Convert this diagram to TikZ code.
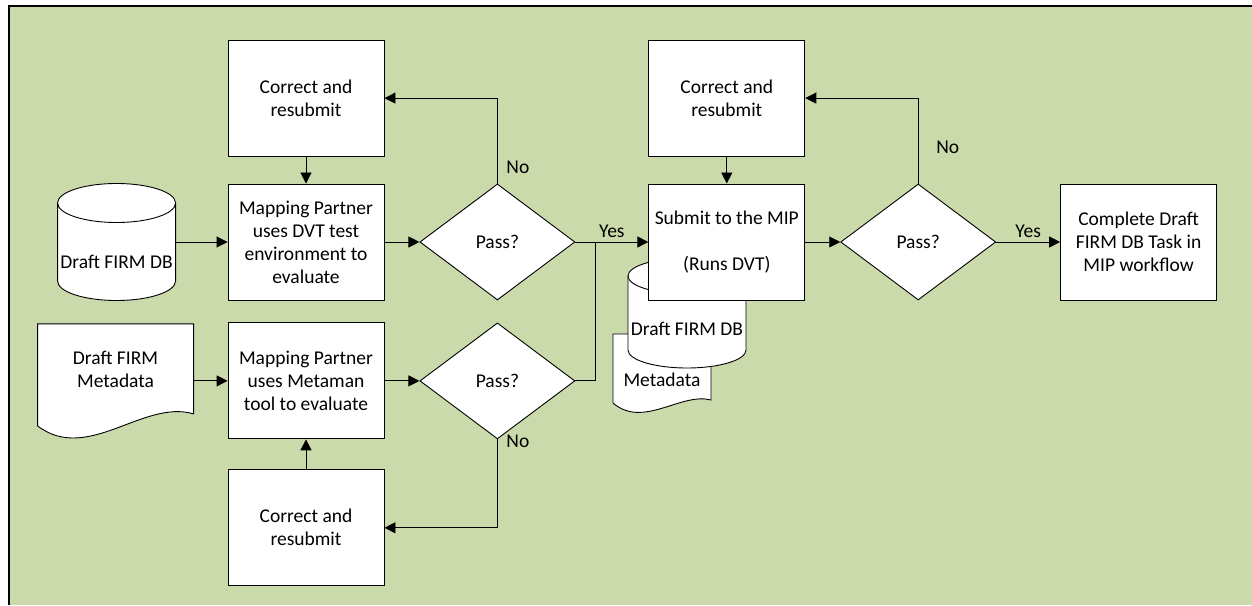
\documentclass[tikz,border=0pt]{standalone}
\usepackage{fontspec}
\setmainfont{Carlito}
\usepackage{tikz}
\usetikzlibrary{positioning}
\usetikzlibrary{shapes.geometric}
\usetikzlibrary{arrows.meta}
\definecolor{panelgreen}{RGB}{203,218,170}

\begin{document}
\begin{tikzpicture}[x=1pt,y=1pt,
    font=\fontsize{19.5}{23}\selectfont,
    box/.style={draw,fill=white,line width=0.9pt,minimum width=156pt,minimum height=116pt,inner sep=0pt,align=center},
    dec/.style={diamond,draw,fill=white,line width=0.9pt,minimum width=155pt,minimum height=116pt,inner sep=0pt},
    ghost/.style={inner sep=0pt,outer sep=0pt},
    arr/.style={-{Triangle[length=11pt,width=11pt]},line width=0.9pt},
    tag/.style={anchor=west,inner sep=0pt}]
    \useasboundingbox (0,0) rectangle (1252,605);
    % panel
    \fill[panelgreen] (9,0) rectangle (1252,599);
    \draw[line width=1.4pt] (9,0) -- (9,599) -- (1252,599);

    % left column
    \node[box] (check) at (306,363) {Mapping Partner\\uses DVT test\\environment to\\evaluate};
    \node[box] (fixtop) [above=27pt of check] {Correct and\\resubmit};
    \node[box] (meta) [below=22pt of check] {Mapping Partner\\uses Metaman\\tool to evaluate};
    \node[box] (fixbot) [below=30pt of meta] {Correct and\\resubmit};
    \node[dec] (passdb) [right=35pt of check] {Pass?};
    \node[dec] (passmeta) [right=35pt of meta] {Pass?};

    % inputs
    \node[ghost,minimum width=118pt,minimum height=117pt] (db) [left=52pt of check] {};
    \draw[fill=white,line width=0.9pt] ([yshift=-19.5pt]db.north west) -- ([yshift=19.5pt]db.south west)
        arc[start angle=180,end angle=360,x radius=59,y radius=19.5]
        -- ([yshift=-19.5pt]db.north east)
        arc[start angle=0,end angle=180,x radius=59,y radius=19.5] -- cycle;
    \draw[line width=0.9pt] ([yshift=-19.5pt]db.north west) arc[start angle=180,end angle=360,x radius=59,y radius=19.5];
    \node (dbtext) at ([yshift=-20pt]db.center) {Draft FIRM DB};

    \node[ghost,minimum width=156pt,minimum height=90pt] (doc) [left=34pt of meta,yshift=12pt] {};
    \draw[fill=white,line width=0.9pt] (doc.north west) -- ([yshift=-12pt]doc.south west)
        .. controls +(50,-38) and +(-50,15) .. (doc.south east) -- (doc.north east) -- cycle;
    \node[align=center] (doctext) at (doc.center) {Draft FIRM\\Metadata};

    % stack under the submit box
    \node[ghost,minimum width=98pt,minimum height=66pt] (subdoc) at (662,238) {};
    \draw[fill=white,line width=0.9pt] (subdoc.north west) -- ([yshift=-3pt]subdoc.south west)
        .. controls +(30,-26) and +(-30,8) .. (subdoc.south east) -- (subdoc.north east) -- cycle;
    \node (subdoctext) at ([yshift=-13pt]subdoc.center) {Metadata};
    \node[ghost,minimum width=118pt,minimum height=110pt] (subdb) at (687,292) {};
    \draw[fill=white,line width=0.9pt] ([yshift=-18pt]subdb.north west) -- ([yshift=18pt]subdb.south west)
        arc[start angle=180,end angle=360,x radius=59,y radius=18]
        -- ([yshift=-18pt]subdb.north east)
        arc[start angle=0,end angle=180,x radius=59,y radius=18] -- cycle;
    \draw[line width=0.9pt] ([yshift=-18pt]subdb.north west) arc[start angle=180,end angle=360,x radius=59,y radius=18];
    \node (subdbtext) at ([yshift=-16pt]subdb.center) {Draft FIRM DB};

    % right column
    \node[box] (submit) [right=73pt of passdb] {Submit to the MIP\\[23pt](Runs DVT)};
    \node[box] (fixmip) [above=27pt of submit] {Correct and\\resubmit};
    \node[dec] (passmip) [right=35pt of submit] {Pass?};
    \node[box] (done) [right=64pt of passmip] {Complete Draft\\FIRM DB Task in\\MIP workflow};
    \coordinate (merge) at ([xshift=20pt]passdb.east);

    \path[arr]
    (db) edge (check)
    (fixtop) edge (check)
    (check) edge (passdb)
    (doc.east |- meta.west) edge (meta)
    (meta) edge (passmeta)
    (fixbot) edge (meta)
    (passdb) edge node[above,inner sep=4pt] {Yes} (submit)
    (fixmip) edge (submit)
    (submit) edge (passmip)
    (passmip) edge node[above,inner sep=4pt] {Yes} (done);

    \draw[arr] (passdb.north) |- node[tag,pos=0.094,xshift=8.6pt] {No} (fixtop.east);
    \draw[arr] (passmeta.south) |- node[tag,pos=0.011,xshift=8.6pt] {No} (fixbot.east);
    \draw[arr] (passmip.north) |- node[tag,pos=0.21,xshift=17.6pt] {No} (fixmip.east);
    \draw[line width=0.9pt] (passmeta.east) -| (merge);
\end{tikzpicture}
\end{document}
